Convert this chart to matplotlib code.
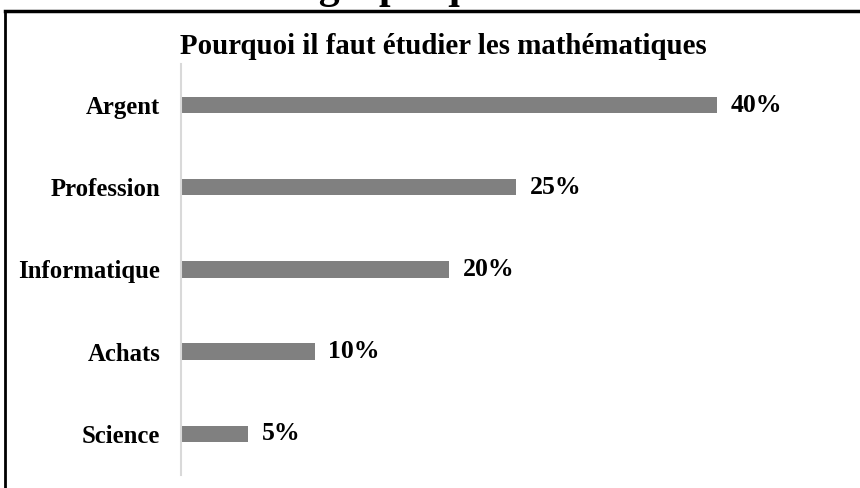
import matplotlib.pyplot as plt
from matplotlib.lines import Line2D

categories = ["Argent", "Profession", "Informatique", "Achats", "Science"]
values = [40, 25, 20, 10, 5]
value_labels = ["40%", "25%", "20%", "10%", "5%"]

plt.rcParams['font.family'] = ['Liberation Serif', 'DejaVu Serif']

fig = plt.figure(figsize=(8.6, 4.88), dpi=100)
ax = fig.add_axes([0.2105, 0.027, 0.779, 0.842])

ax.barh(categories, values, height=0.2, color="#808080")
ax.set_ylim(4.5, -0.5)
ax.set_xlim(0, 50)

for i, (v, lab) in enumerate(zip(values, value_labels)):
    ax.text(v + 1.0, i, lab, va='center', ha='left', fontsize=18.5, fontweight='bold')

ax.set_xticks([])
ax.tick_params(axis='y', length=0, pad=15, labelsize=17.8)
for t in ax.get_yticklabels():
    t.set_fontweight('bold')
for s in ['top', 'right', 'bottom']:
    ax.spines[s].set_visible(False)
ax.spines['left'].set_color('#d9d9d9')
ax.spines['left'].set_linewidth(1.5)

fig.text(0.515, 1 - 47 / 488, "Pourquoi il faut étudier les mathématiques",
         ha='center', va='center', fontsize=20.8, fontweight='bold')

# cropped heading above the frame (only descenders visible)
fig.text(0.305, 1 + 2 / 488, "Le graphique", ha='left', va='baseline',
         fontsize=30, fontweight='bold')

# frame lines
fig.add_artist(Line2D([5 / 860, 5 / 860], [0, 1 - 11 / 488], color='black', lw=2))
fig.add_artist(Line2D([5 / 860, 1], [1 - 11 / 488, 1 - 11 / 488], color='black', lw=2.5))

fig.savefig("out.png", dpi=100)
